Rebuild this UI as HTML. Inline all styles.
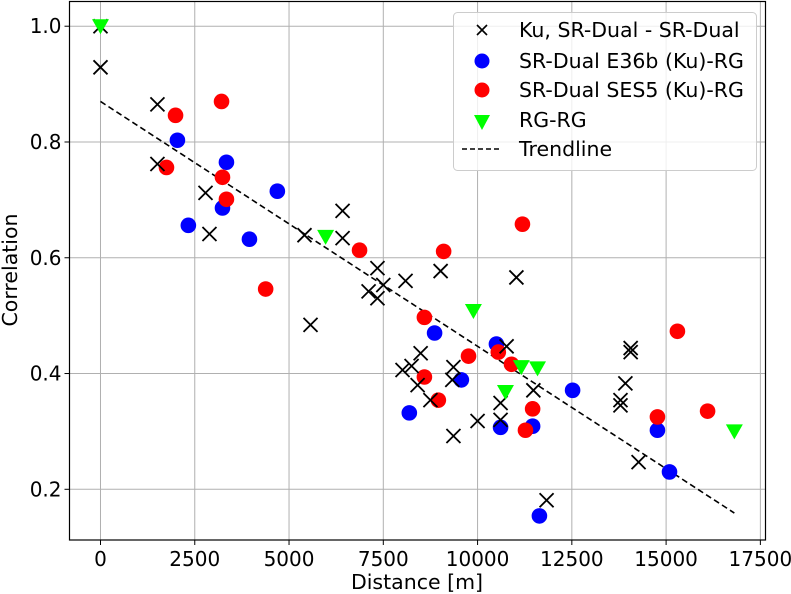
<!DOCTYPE html>
<html><head><meta charset="utf-8"><style>
html,body{margin:0;padding:0;background:#fff;}
svg{display:block;font-family:"DejaVu Sans","Liberation Sans",sans-serif;}
</style></head><body>
<svg id="chart" width="791" height="594" viewBox="0 0 791 594">
<g id="grid"></g>
<g id="series"></g>
<rect x="69.5" y="1.5" width="696" height="538.5" fill="none" stroke="#000" stroke-width="1.2"/>
<g id="axes"></g>
<text x="417" y="589" font-size="20.5" text-anchor="middle">Distance [m]</text>
<text transform="translate(17,270) rotate(-90)" font-size="20.5" text-anchor="middle">Correlation</text>
<g>
<rect x="453.5" y="12.5" width="303" height="158" rx="4" fill="#fff" fill-opacity="0.8" stroke="#ccc"/>
<g><path d="M477,25 L487,35 M487,25 L477,35" stroke="#000" stroke-width="1.6"/><text x="519" y="37" font-size="20.5">Ku, SR-Dual - SR-Dual</text></g>
<g><circle cx="482" cy="61" r="7.5" fill="#00f"/><text x="519" y="68" font-size="20.5">SR-Dual E36b (Ku)-RG</text></g>
<g><circle cx="482" cy="90" r="7.5" fill="#f00"/><text x="519" y="97" font-size="20.5">SR-Dual SES5 (Ku)-RG</text></g>
<g><path d="M474,115 L490,115 L482,130 Z" fill="#0f0"/><text x="519" y="127" font-size="20.5">RG-RG</text></g>
<g><line x1="462" y1="149" x2="502" y2="149" stroke="#000" stroke-width="1.5" stroke-dasharray="5,3"/><text x="519" y="156" font-size="20.5">Trendline</text></g>
</g>
</svg>
<script>
const xTicks=[0,2500,5000,7500,10000,12500,15000,17500];
const yTicks=[0.2,0.4,0.6,0.8,1.0];
const kuX=[0,0,1510,1510,2785,2890,5410,6420,6420,5570,7345,7110,7345,7500,8090,9020,11030,8010,8250,8490,8410,8750,9360,9330,9360,10000,10610,10610,10770,11480,11830,14270,14060,14060,13920,13790,13790];
const kuY=[1.0,0.929,0.865,0.762,0.712,0.641,0.639,0.681,0.634,0.484,0.582,0.542,0.530,0.553,0.560,0.577,0.566,0.406,0.413,0.435,0.380,0.354,0.411,0.389,0.292,0.318,0.349,0.320,0.447,0.371,0.181,0.247,0.444,0.437,0.383,0.354,0.345];
const e36X=[2040,2330,3235,3340,3950,4690,8860,9570,8190,10500,10610,11460,11640,12520,14770,15090];
const e36Y=[0.803,0.656,0.686,0.765,0.632,0.715,0.470,0.389,0.332,0.451,0.307,0.309,0.154,0.371,0.302,0.230];
const sesX=[1990,1750,3210,3235,3340,4380,6870,9100,8590,8590,8960,9760,10550,10900,11190,11460,11270,14770,15300,16100];
const sesY=[0.846,0.756,0.870,0.739,0.701,0.546,0.613,0.611,0.497,0.394,0.354,0.430,0.437,0.416,0.658,0.339,0.302,0.325,0.473,0.335];
const rgX=[0,5970,9890,10740,11160,11590,16810];
const rgY=[1.0,0.636,0.508,0.368,0.411,0.409,0.300];
const trendX=[0,16810];
const trendY=[0.870,0.159];

const NS='http://www.w3.org/2000/svg';
const L=69.5,R=765.5,T=1.5,B=540;
const xMin=-822,xMax=17636,yMin=0.1124,yMax=1.0427;
function sx(v){return L+(v-xMin)/(xMax-xMin)*(R-L);}
function sy(v){return B-(v-yMin)/(yMax-yMin)*(B-T);}
function mk(tag,attrs,parent){const e=document.createElementNS(NS,tag);for(const k in attrs)e.setAttribute(k,attrs[k]);parent.appendChild(e);return e;}
const grid=document.getElementById('grid'),axes=document.getElementById('axes'),series=document.getElementById('series');
xTicks.forEach(t=>{const x=sx(t);
 const g=mk('line',{x1:x,x2:x,y1:T,y2:B,stroke:'#b0b0b0','stroke-width':1},grid);
 
 
 const tk=mk('line',{x1:x,x2:x,y1:B,y2:B+5,stroke:'#000','stroke-width':1},axes);
 
 
 const tx=mk('text',{x:x,y:B+26,'font-size':20,'text-anchor':'middle'},axes);tx.textContent=String(t);
 
 
});
yTicks.forEach(t=>{const y=sy(t);
 const g=mk('line',{x1:L,x2:R,y1:y,y2:y,stroke:'#b0b0b0','stroke-width':1},grid);
 
 
 const tk=mk('line',{x1:L-5,x2:L,y1:y,y2:y,stroke:'#000','stroke-width':1},axes);
 
 
 const tx=mk('text',{x:L-8,y:y+7,'font-size':20,'text-anchor':'end'},axes);tx.textContent=t.toFixed(1);
 
 
});
const tl=mk('line',{x1:sx(trendX[0]),y1:sy(trendY[0]),x2:sx(trendX[1]),y2:sy(trendY[1]),stroke:'#000','stroke-width':1.6,'stroke-dasharray':'6,3.5'},series);


e36X.forEach((v,i)=>{const c=mk('circle',{cx:sx(v),cy:sy(e36Y[i]),r:7.8,fill:'#00f'},series);
 
 });
sesX.forEach((v,i)=>{const c=mk('circle',{cx:sx(v),cy:sy(sesY[i]),r:7.8,fill:'#f00'},series);
 
 });
kuX.forEach((v,i)=>{const x=sx(v),y=sy(kuY[i]),d=7;
 const p=mk('path',{d:`M${x-d},${y-d}L${x+d},${y+d}M${x+d},${y-d}L${x-d},${y+d}`,stroke:'#000','stroke-width':1.8},series);
 
 });
rgX.forEach((v,i)=>{const x=sx(v),y=sy(rgY[i]);
 const p=mk('path',{d:`M${x-8.5},${y-7} L${x+8.5},${y-7} L${x},${y+8} Z`,fill:'#0f0'},series);
 
 });
</script>
</body></html>
